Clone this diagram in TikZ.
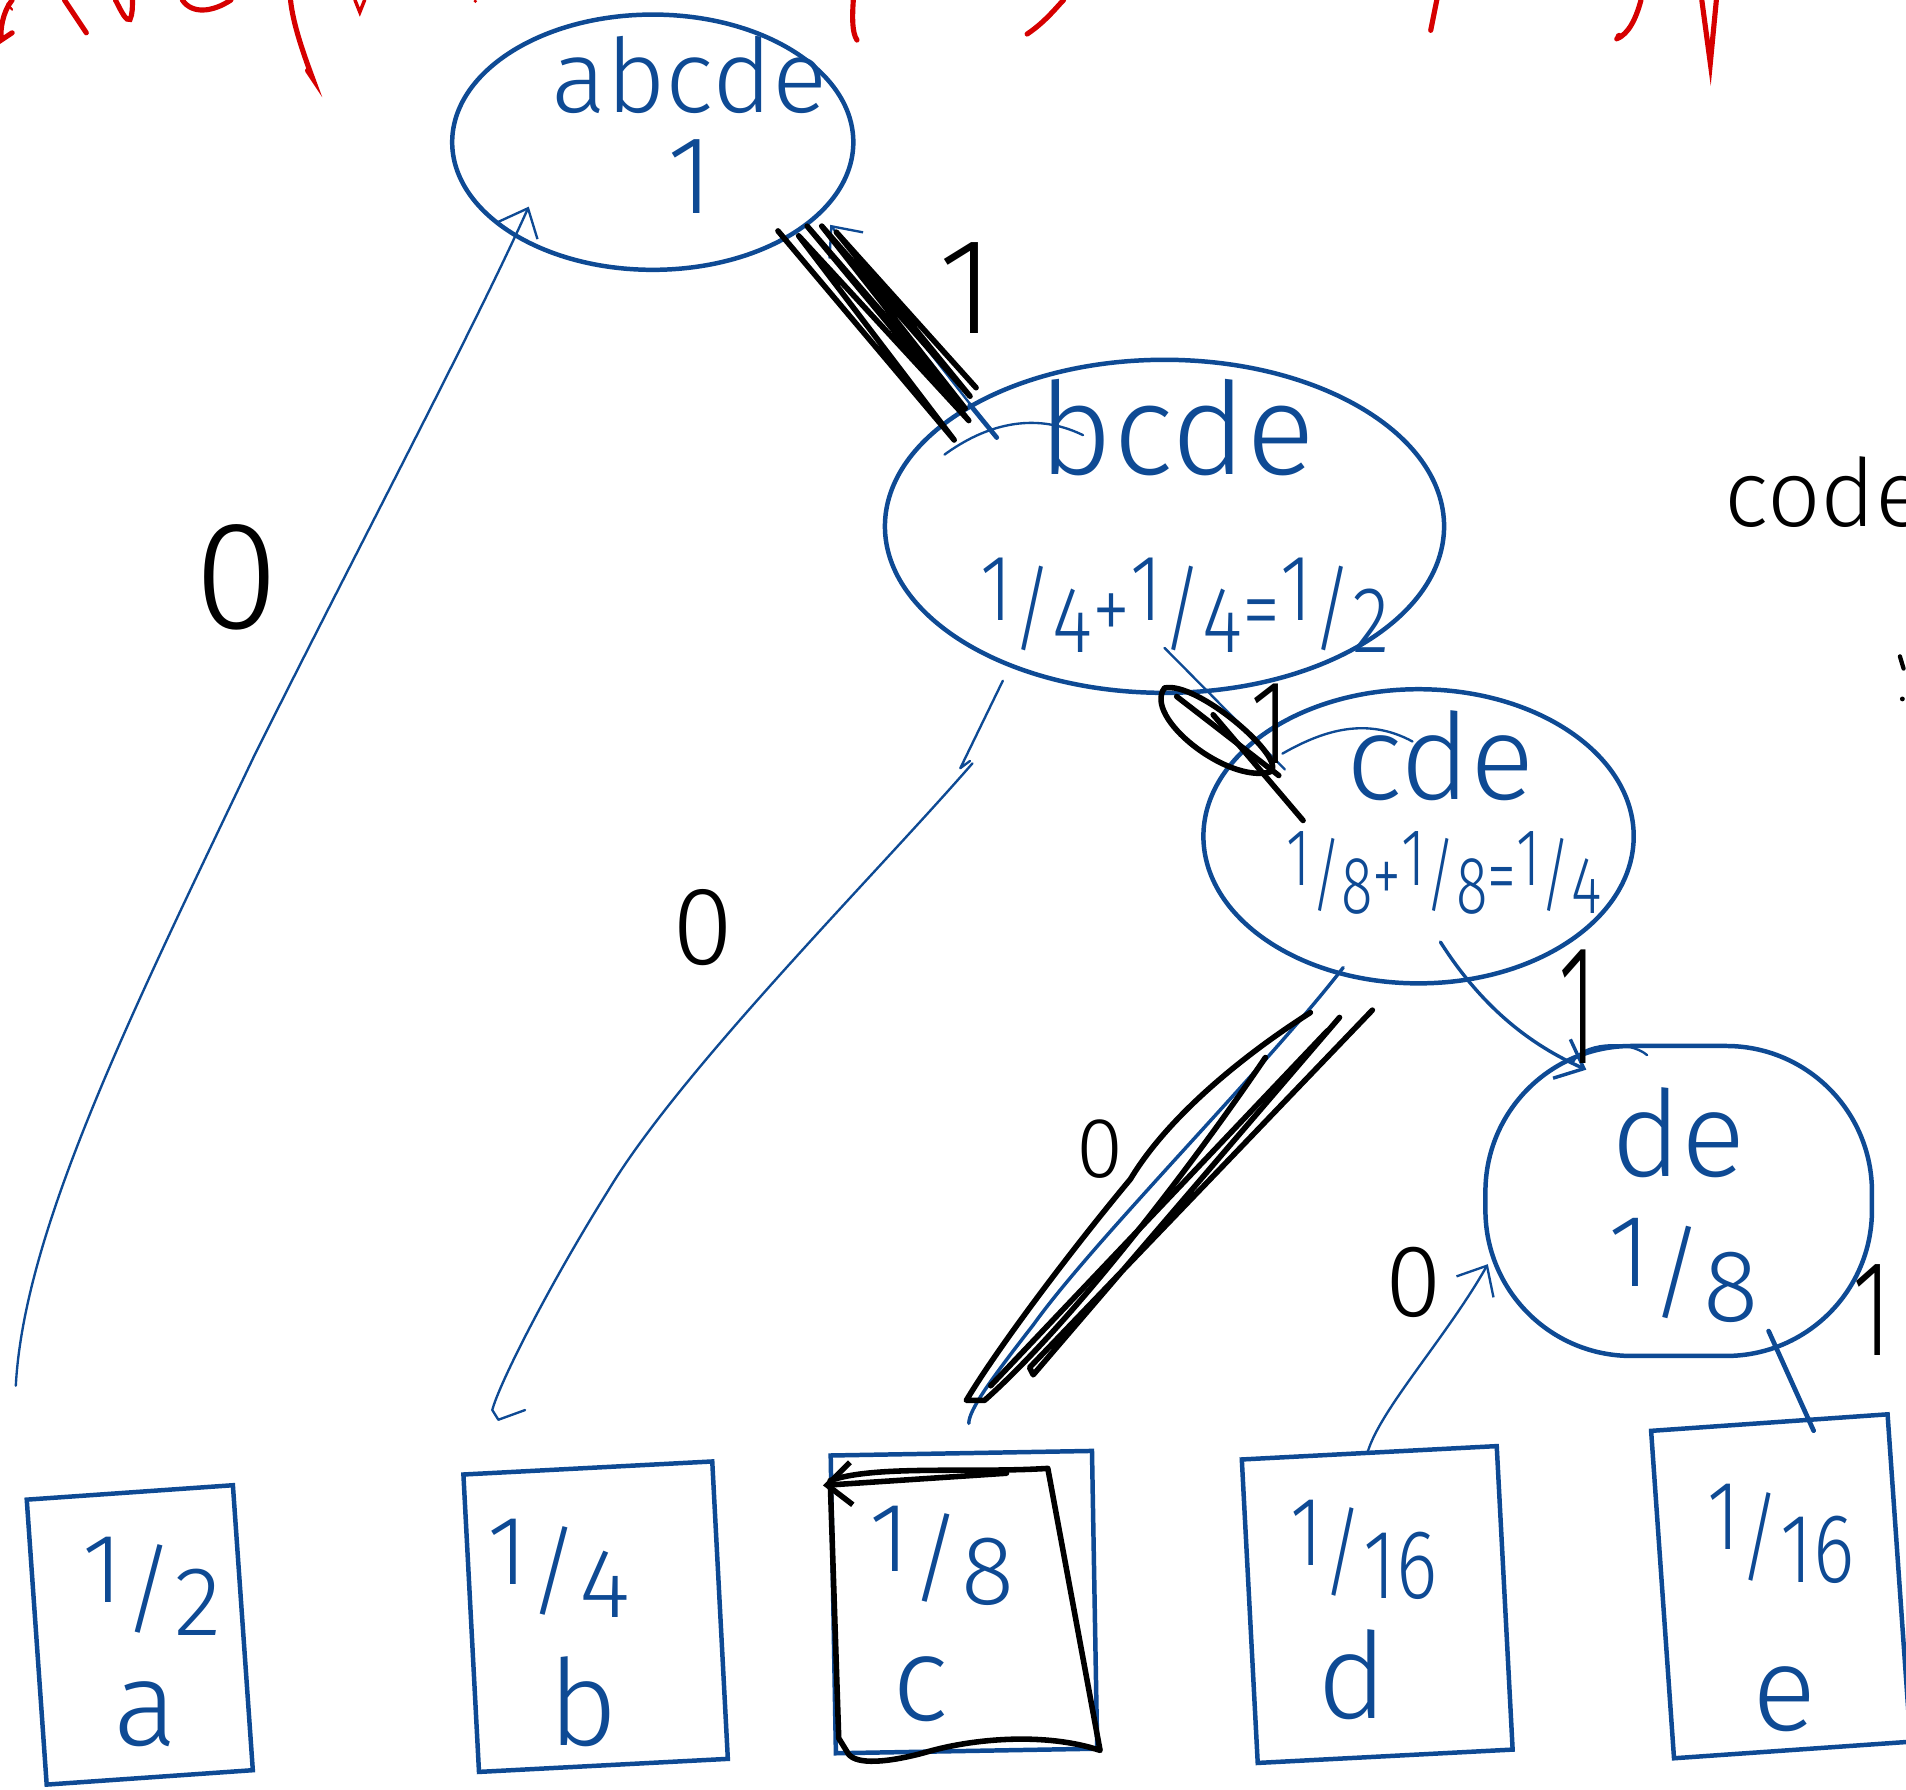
\documentclass[tikz,border=0pt]{standalone}
\usepackage{fontspec}
\setmainfont{Fira Sans}[UprightFont={* Light}]
\usetikzlibrary{shapes.geometric,arrows.meta,calc}
\definecolor{hb}{RGB}{14,74,148}
\definecolor{hr}{RGB}{214,0,0}
\newcommand{\fr}[2]{\raisebox{0.22em}{#1}/\raisebox{-0.12em}{#2}}
\newcommand{\fsz}[1]{\fontsize{#1}{#1}\selectfont}
\newcommand{\nar}[2]{\scalebox{#1}[1]{#2}}
\begin{document}
\begin{tikzpicture}[x=0.1mm, y=-0.1mm,
  ell/.style={draw=hb, line width=1.05pt, ellipse, inner sep=0pt},
  leaf/.style={draw=hb, line width=1.05pt, rectangle, inner sep=0pt},
  btxt/.style={text=hb, inner sep=0pt},
  ktxt/.style={text=black, inner sep=0pt},
  cb/.style={draw=hb, line width=0.55pt, line cap=round, line join=round},
  cbk/.style={draw=hb, line width=1.1pt, line cap=round},
  scr/.style={draw=black, line width=1.3pt, line cap=round, line join=round},
  rd/.style={draw=hr, line width=1.2pt, line cap=round},
  >={Straight Barb[length=2mm,width=3.5mm]}]
\useasboundingbox (0,0) rectangle (1568,1472);
\fill[white] (0,0) rectangle (1568,1472);

% red fragments at the top
\draw[rd] (10,0) .. controls (2,10) and (0,25) .. (1,33) -- (10,27);
\draw[rd, line width=0.5pt] (6,3) -- (10,8);
\draw[rd] (53,0) -- (71,27);
\draw[rd] (95,0) .. controls (100,10) and (104,18) .. (107,16) .. controls (109,12) and (109,5) .. (109,0);
\draw[rd] (150,0) .. controls (158,12) and (175,10) .. (190,0);
\draw[rd] (239,0) .. controls (241,20) and (250,45) .. (257,64) -- (253,58);
\draw[rd, line width=0.8pt] (292,0) -- (296,10) -- (300,0);
\fill[hr] (391,1) circle (1.5);
\draw[rd] (702,0) .. controls (701,15) and (701,27) .. (705,33);
\draw[rd] (845,28) .. controls (860,18) and (870,5) .. (875,0);
\draw[rd] (1177,25) -- (1182,0);
\draw[rd] (1330,32) .. controls (1340,28) and (1346,15) .. (1350,0);
\fill[hr] (1332,30) circle (3);
\draw[rd] (1400,0) -- (1407,52) -- (1412,0);

% internal nodes
\node[ell, minimum width=33mm, minimum height=21mm] (root) at (537,117) {};
\node[ell, minimum width=46mm, minimum height=27.4mm] (bcde) at (958,433) {};
\node[ell, minimum width=35.4mm, minimum height=24.2mm] (cde) at (1167,688) {};
\node[draw=hb, line width=1.05pt, rounded corners=12mm, minimum width=31.8mm, minimum height=25.5mm, inner sep=0pt] (de) at (1381,988) {};

\node[btxt, font=\fsz{24}] (troot1) at (567,62) {abcde};
\node[btxt, font=\fsz{26}] (troot2) at (568,145) {1};
\node[btxt, font=\fsz{30}] (tbcde1) at (968,352) {bcde};
\node[btxt, font=\fsz{22}] (tbcde2) at (975,498) {\nar{0.82}{\fr14+\fr14=\fr12}};
\node[btxt, font=\fsz{28}] (tcde1) at (1185,622) {cde};
\node[btxt, font=\fsz{19}] (tcde2) at (1188,718) {\nar{0.72}{\fr18+\fr18=\fr14}};
\node[btxt, font=\fsz{28}] (tde1) at (1381,932) {de};
\node[btxt, font=\fsz{24}] (tde2) at (1385,1045) {\fr18};

% leaves
\node[leaf, rotate=4, minimum width=17mm, minimum height=23.5mm] (a) at (115,1345) {};
\node[leaf, rotate=3, minimum width=20.5mm, minimum height=24.5mm] (b) at (490,1330) {};
\node[leaf, rotate=1, minimum width=21.5mm, minimum height=24.5mm] (c) at (793,1318) {};
\node[leaf, rotate=3, minimum width=21mm, minimum height=25mm] (d) at (1133,1320) {};
\node[leaf, rotate=4, minimum width=19.5mm, minimum height=27mm] (e) at (1465,1305) {};

\node[btxt, font=\fsz{23}] (ta1) at (125,1305) {\fr12};
\node[btxt, font=\fsz{28}] (ta2) at (120,1410) {a};
\node[btxt, font=\fsz{23}] (tb1) at (460,1290) {\fr14};
\node[btxt, font=\fsz{28}] (tb2) at (480,1400) {b};
\node[btxt, font=\fsz{23}] (tc1) at (775,1280) {\fr18};
\node[btxt, font=\fsz{28}] (tc2) at (757,1390) {c};
\node[btxt, font=\fsz{23}] (td1) at (1122,1275) {\nar{0.8}{\fr1{16}}};
\node[btxt, font=\fsz{28}] (td2) at (1113,1378) {d};
\node[btxt, font=\fsz{23}] (te1) at (1465,1262) {\nar{0.8}{\fr1{16}}};
\node[btxt, font=\fsz{28}] (te2) at (1468,1398) {e};

% black overlay on box c
\draw[scr] ($(c)+(-110,-100)$) .. controls (720,1205) and (800,1212) .. ($(c)+(69,-110)$)
  -- ($(c)+(112,122)$) .. controls (860,1425) and (800,1430) .. (760,1442)
  .. controls (730,1450) and (705,1452) .. ($(c)+(-95,125)$) -- ($(c)+(-103,112)$) -- cycle;
\draw[scr, ->] ($(c)+(35,-106)$) -- ($(c)+(-116,-96)$);

% root -> a
\draw[cb, ->] ($(a)+(-102,-205)$) .. controls (20,1010) and (110,830) .. (210,620)
  .. controls (300,440) and (390,270) .. ($(root)+(-102,53)$);
\node[ktxt, font=\fsz{36}] (l0a) at (195,475) {0};

% root -> bcde
\draw[cb, <-] ($(root)+(146,68)$) -- ($(bcde)+(-140,-75)$);
\draw[scr] ($(root)+(103,73)$) -- ++(145,172) -- ++(-128,-168) -- ++(140,152) -- ++(-133,-160)
  -- ++(130,150) -- ++(-118,-150) -- ++(122,140) -- ++(-110,-135) -- ++(115,128);
\draw[cbk] ($(bcde)+(-160,-100)$) -- ($(bcde)+(-138,-73)$);
\draw[cb] ($(bcde)+(-181,-59)$) .. controls (810,350) and (850,338) .. ($(bcde)+(-67,-75)$);
\node[ktxt, font=\fsz{32}] (l1a) at (795,237) {1};

% bcde -> b
\draw[cb] ($(bcde)+(-133,127)$) -- ++(-35,72) -- ++(8,-6);
\draw[cb] ($(bcde)+(-158,195)$) .. controls (720,720) and (560,880) .. (500,980)
  .. controls (450,1060) and (410,1140) .. ($(b)+(-85,-170)$) -- ++(5,8) -- ++(22,-8);
\node[ktxt, font=\fsz{26}] (l0b) at (578,763) {0};

% bcde -> cde
\draw[cb] ($(bcde)+(0,100)$) -- ($(cde)+(-110,-55)$);
\draw[scr] ($(bcde)+(0,133)$) .. controls (940,590) and (1010,645) .. (1045,635)
  .. controls (1060,625) and (985,560) .. ($(bcde)+(0,133)$);
\draw[scr] ($(bcde)+(10,140)$) -- ($(cde)+(-115,-50)$);
\draw[scr] ($(bcde)+(40,155)$) -- ($(cde)+(-95,-13)$);
\draw[cb] ($(cde)+(-112,-68)$) .. controls (1090,600) and (1125,590) .. ($(cde)+(-5,-78)$);
\node[ktxt, font=\fsz{28}] (l1b) at (1045,595) {\nar{0.8}{1}};

% cde -> c
\draw[cb, line width=0.8pt] ($(cde)+(-62,108)$) .. controls (1040,880) and (900,1020) .. (850,1090)
  .. controls (815,1135) and (797,1160) .. ($(c)+(4,-147)$);
\draw[scr] ($(cde)+(-89,145)$) .. controls (1020,870) and (960,920) .. (930,970)
  .. controls (880,1030) and (820,1110) .. ($(c)+(2,-166)$) -- ++(15,0)
  .. controls (880,1090) and (980,960) .. ($(cde)+(-126,182)$);
\draw[scr] ($(cde)+(-38,143)$) -- ($(c)+(54,-193)$) -- ++(3,6) -- ($(cde)+(-65,149)$);
\draw[scr] ($(cde)+(-75,160)$) -- ($(c)+(22,-178)$);
\node[ktxt, font=\fsz{20}] (l0c) at (905,945) {0};

% cde -> de
\draw[cb, line width=0.8pt, ->] ($(cde)+(18,87)$) .. controls (1220,830) and (1260,860) .. ($(de)+(-76,-108)$);
\draw[cb] ($(de)+(-87,-114)$) .. controls (1300,858) and (1340,855) .. ($(de)+(-26,-120)$);
\node[ktxt, font=\fsz{40}] (l1c) at (1298,828) {\nar{0.55}{1}};

% de -> d
\draw[cb, <-] ($(de)+(-157,52)$) .. controls (1190,1100) and (1135,1160) .. ($(d)+(-8,-125)$);
\node[ktxt, font=\fsz{24}] (l0d) at (1163,1055) {0};

% de -> e
\draw[cbk] ($(de)+(74,107)$) -- ($(e)+(27,-128)$);
\node[ktxt, font=\fsz{32}] (l1d) at (1540,1078) {\nar{0.7}{1}};

% side note
\node[ktxt, font=\fsz{22}, anchor=west] (code) at (1418,405) {code};
\draw[scr, line width=1pt] (1563,540) -- (1566,550);
\fill (1565,575) circle (2);
\end{tikzpicture}
\end{document}
